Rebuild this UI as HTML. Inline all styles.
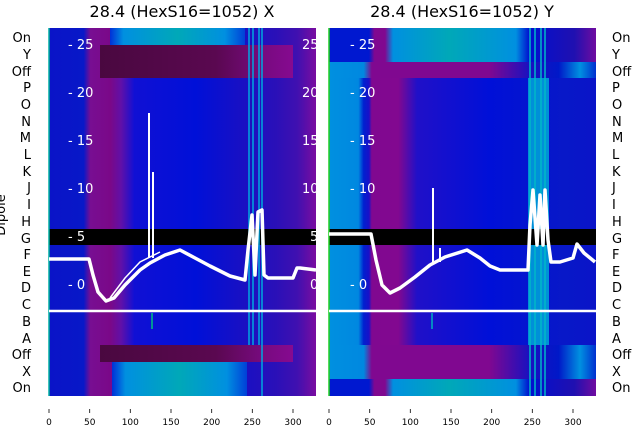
<!DOCTYPE html>
<html><head><meta charset="utf-8"><style>
body{margin:0;background:#fff;}
svg{display:block;font-family:"DejaVu Sans","Liberation Sans",sans-serif;}
</style></head><body>
<svg width="640" height="440" viewBox="0 0 640 440">
<defs>
<linearGradient id="lb" x1="0" x2="1">
<stop offset="0" stop-color="#0a14c8"/><stop offset="0.13" stop-color="#0818c8"/>
<stop offset="0.155" stop-color="#780e92"/><stop offset="0.23" stop-color="#7a0888"/>
<stop offset="0.27" stop-color="#6010a8"/><stop offset="0.32" stop-color="#1010d4"/>
<stop offset="0.55" stop-color="#0010d8"/><stop offset="0.72" stop-color="#1810c4"/>
<stop offset="0.85" stop-color="#2a10b8"/><stop offset="0.93" stop-color="#4010b0"/>
<stop offset="1" stop-color="#7a0ca0"/></linearGradient>
<linearGradient id="cy" x1="0" x2="1">
<stop offset="0" stop-color="#0030d8"/><stop offset="0.1" stop-color="#0090e0"/>
<stop offset="0.5" stop-color="#00a8b8"/><stop offset="0.85" stop-color="#0090e0"/>
<stop offset="1" stop-color="#0040d8"/></linearGradient>
<linearGradient id="dp" x1="0" x2="1">
<stop offset="0" stop-color="#4a0840"/><stop offset="0.6" stop-color="#5a0850"/>
<stop offset="0.85" stop-color="#780a80"/><stop offset="1" stop-color="#860a90"/></linearGradient>
<linearGradient id="rb" x1="0" x2="1">
<stop offset="0" stop-color="#0090e0"/><stop offset="0.11" stop-color="#0088e0"/>
<stop offset="0.13" stop-color="#0020d0"/><stop offset="0.15" stop-color="#1a10c8"/>
<stop offset="0.16" stop-color="#800890"/><stop offset="0.26" stop-color="#820890"/>
<stop offset="0.33" stop-color="#2010c8"/><stop offset="0.6" stop-color="#0010d8"/>
<stop offset="0.88" stop-color="#0818c8"/><stop offset="1" stop-color="#0a14c8"/></linearGradient>
<linearGradient id="rp" x1="0" x2="1">
<stop offset="0" stop-color="#0090e0"/><stop offset="0.13" stop-color="#0088e0"/>
<stop offset="0.16" stop-color="#800890"/><stop offset="0.6" stop-color="#800890"/>
<stop offset="0.75" stop-color="#1a10c0"/><stop offset="0.86" stop-color="#0018c8"/>
<stop offset="0.94" stop-color="#0090e0"/><stop offset="1" stop-color="#0030d0"/></linearGradient>
<linearGradient id="rt" x1="0" x2="1">
<stop offset="0" stop-color="#0018d0"/><stop offset="0.15" stop-color="#0018d0"/>
<stop offset="0.17" stop-color="#800890"/><stop offset="0.21" stop-color="#800890"/>
<stop offset="0.24" stop-color="#0090e0"/><stop offset="0.45" stop-color="#00a8b8"/>
<stop offset="0.7" stop-color="#0090e0"/><stop offset="0.75" stop-color="#0010d0"/>
<stop offset="0.92" stop-color="#2010b0"/><stop offset="1" stop-color="#700ca0"/></linearGradient>
</defs>
<text x="182" y="17" font-size="16" text-anchor="middle">28.4 (HexS16=1052) X</text>
<text x="462" y="17" font-size="16" text-anchor="middle">28.4 (HexS16=1052) Y</text>

<!-- LEFT PANEL -->
<g>
<rect x="49" y="28" width="267" height="368" fill="url(#lb)"/>
<rect x="110" y="28" width="85" height="17" fill="url(#cy)" transform="translate(0,0)"/>
<rect x="110" y="28" width="85" height="17" fill="url(#cy)"/>
<rect x="110" y="28" width="135" height="17" fill="url(#cy)"/>
<rect x="100" y="45" width="193" height="33" fill="url(#dp)"/>
<rect x="100" y="345" width="193" height="17" fill="url(#dp)"/>
<rect x="112" y="362" width="135" height="34" fill="url(#cy)"/>
<rect x="49" y="229" width="267" height="16" fill="#000"/>
<g stroke="#00a8e0" stroke-width="1.5">
<line x1="249" y1="28" x2="249" y2="345"/><line x1="253" y1="28" x2="253" y2="345"/>
<line x1="259" y1="28" x2="259" y2="345"/><line x1="262" y1="28" x2="262" y2="396"/>
</g>
<line x1="152" y1="313" x2="152" y2="329" stroke="#00c080" stroke-width="1.5"/>
<line x1="49" y1="28" x2="49" y2="396" stroke="#00b0a0" stroke-width="1.5"/>
<g fill="#fff" font-size="13">
<text x="68" y="49">- 25</text><text x="68" y="97">- 20</text><text x="68" y="145">- 15</text>
<text x="68" y="193">- 10</text><text x="68" y="241">- 5</text><text x="68" y="289">- 0</text>
<text x="302" y="49">25</text><text x="302" y="97">20</text><text x="302" y="145">15</text>
<text x="302" y="193">10</text><text x="310" y="241">5</text><text x="310" y="289">0</text>
</g>
<polyline fill="none" stroke="#fff" stroke-width="3.5" stroke-linejoin="round" points="49,259 89,259 93,275 98,292 106,301 114,298 125,285 140,270 150,263 165,255 180,250 195,258 210,266 230,276 245,280 248,250 252,215 255,275 258,212 262,210 264,275 268,278 293,278 297,268 300,268 316,270"/>
<polyline fill="none" stroke="#fff" stroke-width="1.5" points="110,298 125,278 140,262 160,252"/>
<line x1="149" y1="258" x2="149" y2="113" stroke="#fff" stroke-width="2"/>
<line x1="153" y1="258" x2="153" y2="172" stroke="#fff" stroke-width="2"/>
</g>

<!-- RIGHT PANEL -->
<g>
<rect x="329" y="28" width="267" height="368" fill="url(#rb)"/>
<rect x="329" y="28" width="267" height="34" fill="url(#rt)"/>
<rect x="329" y="62" width="267" height="16" fill="url(#rp)"/>
<rect x="329" y="345" width="267" height="34" fill="url(#rp)"/>
<rect x="329" y="379" width="267" height="17" fill="url(#rt)"/>
<rect x="528" y="78" width="21" height="267" fill="#0090d8"/>
<g stroke="#00b8c8" stroke-width="1.5">
<line x1="530" y1="28" x2="530" y2="396"/><line x1="535" y1="28" x2="535" y2="396"/>
<line x1="541" y1="28" x2="541" y2="396"/><line x1="545" y1="28" x2="545" y2="396"/>
</g>
<line x1="432" y1="313" x2="432" y2="329" stroke="#00b0c0" stroke-width="1.5"/>
<rect x="329" y="229" width="267" height="16" fill="#000"/>
<line x1="329" y1="28" x2="329" y2="396" stroke="#20d020" stroke-width="1.5"/>
<g fill="#fff" font-size="13">
<text x="350" y="49">- 25</text><text x="350" y="97">- 20</text><text x="350" y="145">- 15</text>
<text x="350" y="193">- 10</text><text x="350" y="289">- 0</text>
</g>
<polyline fill="none" stroke="#fff" stroke-width="3.5" stroke-linejoin="round" points="329,234 371,234 376,260 382,285 390,293 400,288 415,277 430,265 445,257 467,250 480,258 490,266 500,270 528,270 530,225 533,190 537,245 540,195 543,245 545,190 548,240 551,262 560,262 573,258 577,244 584,253 595,262"/>
<line x1="433" y1="262" x2="433" y2="188" stroke="#fff" stroke-width="2"/>
<line x1="440" y1="262" x2="440" y2="248" stroke="#fff" stroke-width="2"/>
</g>

<!-- white horizontal line -->
<line x1="49" y1="311" x2="316" y2="311" stroke="#fff" stroke-width="2.5"/>
<line x1="329" y1="311" x2="596" y2="311" stroke="#fff" stroke-width="2.5"/>

<!-- row labels -->
<g font-size="13" text-anchor="end">
<text x="31" y="42">On</text><text x="31" y="59">Y</text><text x="31" y="76">Off</text>
<text x="31" y="92">P</text><text x="31" y="109">O</text><text x="31" y="126">N</text>
<text x="31" y="142">M</text><text x="31" y="159">L</text><text x="31" y="176">K</text>
<text x="31" y="192">J</text><text x="31" y="209">I</text><text x="31" y="226">H</text>
<text x="31" y="243">G</text><text x="31" y="259">F</text><text x="31" y="276">E</text>
<text x="31" y="292">D</text><text x="31" y="309">C</text><text x="31" y="326">B</text>
<text x="31" y="343">A</text><text x="31" y="359">Off</text><text x="31" y="376">X</text>
<text x="31" y="392">On</text>
</g>
<g font-size="13">
<text x="612" y="42">On</text><text x="612" y="59">Y</text><text x="612" y="76">Off</text>
<text x="612" y="92">P</text><text x="612" y="109">O</text><text x="612" y="126">N</text>
<text x="612" y="142">M</text><text x="612" y="159">L</text><text x="612" y="176">K</text>
<text x="612" y="192">J</text><text x="612" y="209">I</text><text x="612" y="226">H</text>
<text x="612" y="243">G</text><text x="612" y="259">F</text><text x="612" y="276">E</text>
<text x="612" y="292">D</text><text x="612" y="309">C</text><text x="612" y="326">B</text>
<text x="612" y="343">A</text><text x="612" y="359">Off</text><text x="612" y="376">X</text>
<text x="612" y="392">On</text>
</g>
<text transform="translate(5,215) rotate(-90)" font-size="13" text-anchor="middle">Dipole</text>

<!-- x ticks -->
<g stroke="#000" stroke-width="0.8">
<line x1="49" y1="409" x2="49" y2="413"/><line x1="89.7" y1="409" x2="89.7" y2="413"/>
<line x1="130.3" y1="409" x2="130.3" y2="413"/><line x1="171" y1="409" x2="171" y2="413"/>
<line x1="211.7" y1="409" x2="211.7" y2="413"/><line x1="252.3" y1="409" x2="252.3" y2="413"/>
<line x1="293" y1="409" x2="293" y2="413"/>
<line x1="329" y1="409" x2="329" y2="413"/><line x1="369.7" y1="409" x2="369.7" y2="413"/>
<line x1="410.3" y1="409" x2="410.3" y2="413"/><line x1="451" y1="409" x2="451" y2="413"/>
<line x1="491.7" y1="409" x2="491.7" y2="413"/><line x1="532.3" y1="409" x2="532.3" y2="413"/>
<line x1="573" y1="409" x2="573" y2="413"/>
</g>
<g font-size="9" text-anchor="middle">
<text x="49" y="425">0</text><text x="89.7" y="425">50</text><text x="130.3" y="425">100</text>
<text x="171" y="425">150</text><text x="211.7" y="425">200</text><text x="252.3" y="425">250</text>
<text x="293" y="425">300</text>
<text x="329" y="425">0</text><text x="369.7" y="425">50</text><text x="410.3" y="425">100</text>
<text x="451" y="425">150</text><text x="491.7" y="425">200</text><text x="532.3" y="425">250</text>
<text x="573" y="425">300</text>
</g>
</svg>
</body></html>
